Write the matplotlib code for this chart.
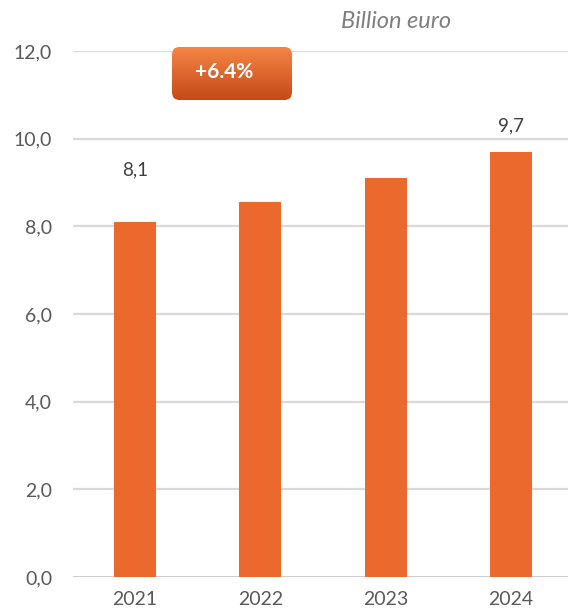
import numpy as np
import matplotlib.pyplot as plt
from matplotlib.patches import FancyBboxPatch

years = ["2021", "2022", "2023", "2024"]
values = [8.1, 8.55, 9.1, 9.7]
value_labels = ["8,1", "", "", "9,7"]
label_offsets = [52, 0, 0, 26]
y_ticks = [0, 2, 4, 6, 8, 10, 12]
y_tick_labels = ["0,0", "2,0", "4,0", "6,0", "8,0", "10,0", "12,0"]
growth_label = "+6.4%"
unit_label = "Billion euro"

plt.rcParams['font.family'] = ['Lato', 'DejaVu Sans']

W, H = 568, 613
fig = plt.figure(figsize=(W / 100, H / 100), dpi=100)
ax = fig.add_axes([73 / W, 1 - 577 / H, (W - 73) / W, (577 - 51) / H])

bar_color = '#EC692D'
x = np.arange(len(years))
ax.bar(x, values, width=0.335, color=bar_color, zorder=3)

ax.set_xlim(-0.495, 3.455)
ax.set_ylim(0, 12)
ax.set_yticks(y_ticks)
ax.set_yticklabels(y_tick_labels)
ax.set_xticks(x)
ax.set_xticklabels(years)
ax.tick_params(axis='both', length=0, labelsize=14, colors='#595959')
ax.tick_params(axis='y', pad=15)
ax.tick_params(axis='x', pad=10)

for s in ax.spines.values():
    s.set_visible(False)
for t in y_ticks[1:]:
    ax.axhline(t, color='#D9D9D9', lw=1.6, zorder=1)
ax.axhline(0, color='#BFBFBF', lw=1.8, zorder=2)

for xi, v, lab, off in zip(x, values, value_labels, label_offsets):
    if lab:
        ax.annotate(lab, (xi, v), xytext=(0, off), textcoords='offset pixels',
                    ha='center', va='center', fontsize=13.5, color='#404040')

# growth badge with vertical gradient
bx0, bx1 = 172 / W, 292 / W
by0, by1 = 1 - 100 / H, 1 - 47 / H
badge = FancyBboxPatch((bx0, by0), bx1 - bx0, by1 - by0,
                       boxstyle="round,pad=0,rounding_size=0.013",
                       transform=fig.transFigure, facecolor='none',
                       edgecolor='none', zorder=5)
fig.patches.append(badge)
grad = np.linspace(0, 1, 100).reshape(-1, 1)
top = np.array([0.96, 0.52, 0.27])
bot = np.array([0.77, 0.29, 0.09])
img = top * (1 - grad[..., None]) + bot * grad[..., None]
img = np.repeat(img, 2, axis=1)
gax = fig.add_axes([bx0, by0, bx1 - bx0, by1 - by0], zorder=5)
gax.imshow(img, aspect='auto', extent=(0, 1, 0, 1), origin='upper')
gax.axis('off')
gax.images[0].set_clip_path(badge)
fig.text(224 / W, 1 - 72 / H, growth_label, ha='center', va='center',
         color='white', fontsize=15, fontweight='bold', zorder=6)

fig.text(396 / W, 1 - 21 / H, unit_label, ha='center', va='center',
         color='#7F7F7F', fontsize=17, style='italic')

fig.savefig('out.png', dpi=100)
